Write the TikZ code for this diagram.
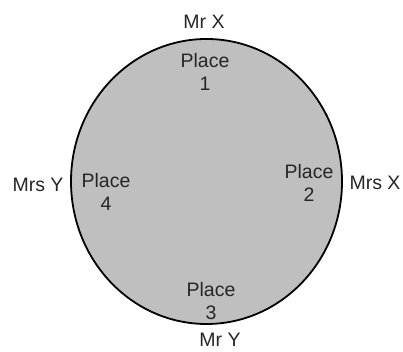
\documentclass[tikz,border=0pt]{standalone}
\usepackage{fontspec}
\setmainfont{Liberation Sans}
\begin{document}
\begin{tikzpicture}[x=1pt,y=1pt,
  lbl/.style={font=\fontsize{19.5}{23}\selectfont, text=black!85, align=center, inner sep=0pt},
  table/.style={draw=black, line width=1.8pt, fill=black!25}]
\useasboundingbox (0,0) rectangle (403,352);
\fill[white] (0,0) rectangle (403,352);
\draw[table] (206.5,170.5) ellipse [x radius=135.5, y radius=142.5];
\node[lbl] (p1) at (205,280.5) {Place\\1};
\node[lbl] (p2) at (309,169) {Place\\2};
\node[lbl] (p3) at (211,51) {Place\\3};
\node[lbl] (p4) at (106,160) {Place\\4};
\node[lbl] (mrx) at (204,330) {Mr X};
\node[lbl] (mrsx) at (375,169) {Mrs X};
\node[lbl] (mry) at (220,12) {Mr Y};
\node[lbl] (mrsy) at (38,167) {Mrs Y};
\end{tikzpicture}
\end{document}
